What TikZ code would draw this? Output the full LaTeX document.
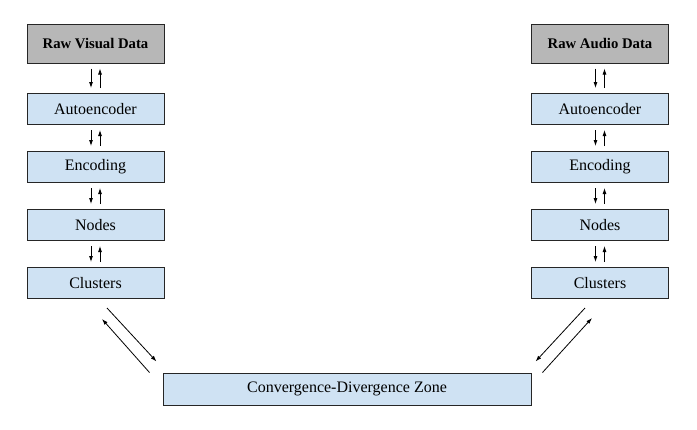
\documentclass[tikz,border=0pt]{standalone}
\usepackage{fontspec}
\setmainfont{Liberation Serif}
\usetikzlibrary{arrows.meta,calc}
\definecolor{boxblue}{HTML}{CFE2F3}
\definecolor{boxgray}{HTML}{B7B7B7}
\tikzset{
  blk/.style={draw=black!85,line width=1pt,fill=boxblue,minimum width=137pt,minimum height=31pt,inner sep=0pt,font=\fontsize{16}{19}\selectfont},
  rawblk/.style={blk,fill=boxgray,minimum height=39pt,font=\fontsize{14.7}{17}\selectfont\bfseries},
  conn/.style={line width=0.8pt,-{Latex[length=6pt,width=4pt]}},
}
\begin{document}
\begin{tikzpicture}[x=1pt,y=-1pt]
\useasboundingbox (0,0) rectangle (697,429);
% left column
\node[rawblk] (rv) at (95.5,43.5) {Raw Visual Data};
\node[blk] (la) at (95.5,109) {Autoencoder};
\node[blk] (le) at (95.5,167) {Encoding};
\node[blk] (ln) at (95.5,225) {Nodes};
\node[blk] (lc) at (95.5,283) {Clusters};
% right column
\node[rawblk] (ra) at (600,43.5) {Raw Audio Data};
\node[blk] (rae) at (600,109) {Autoencoder};
\node[blk] (ren) at (600,167) {Encoding};
\node[blk] (rn) at (600,225) {Nodes};
\node[blk] (rc) at (600,283) {Clusters};
% convergence
\node[blk,minimum width=368pt,minimum height=32pt] (cz) at (347,389) {Convergence-Divergence Zone};
% vertical arrows
\foreach \a/\b in {rv/la,la/le,le/ln,ln/lc,ra/rae,rae/ren,ren/rn,rn/rc}{
  \draw[conn] ($(\a.south)+(-4.5,5)$) -- ($(\b.north)+(-4.5,-5)$);
  \draw[conn] ($(\b.north)+(4.5,-5)$) -- ($(\a.south)+(4.5,5)$);
}
% diagonals left
\draw[conn] ($(lc.south)+(11.5,9)$) -- ($(cz.north west)+(-6,-11)$);
\draw[conn] ($(cz.north west)+(-13,0)$) -- ($(lc.south)+(6.5,20)$);
% diagonals right
\draw[conn] ($(rc.south)+(-15,9)$) -- ($(cz.north east)+(4,-11)$);
\draw[conn] ($(cz.north east)+(11,0)$) -- ($(rc.south)+(-8,19)$);
\end{tikzpicture}
\end{document}
